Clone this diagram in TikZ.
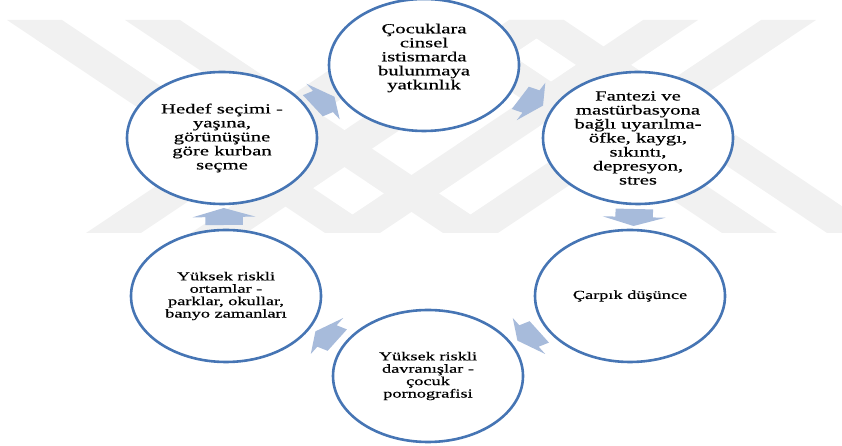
\documentclass[tikz,border=0pt]{standalone}
\usepackage{fontspec}
\setmainfont{Liberation Serif}[FakeStretch=1.5,FakeBold=0.5]
\usetikzlibrary{shapes.geometric,calc}
\definecolor{ringblue}{RGB}{70,117,180}
\definecolor{arrowblue}{RGB}{167,187,219}
\definecolor{markgray}{RGB}{241,241,241}
\newcommand{\bigtxt}{\fontsize{13.8}{14}\selectfont}
\newcommand{\smalltxt}{\fontsize{12.2}{12.4}\selectfont}
\tikzset{
  stage/.style={ellipse, draw=ringblue, line width=2.6pt, fill=white, minimum width=190pt, minimum height=132pt, inner sep=0pt, align=center},
  turn/.style={fill=arrowblue, draw=none}
}

\begin{document}
\begin{tikzpicture}[x=1pt,y=1pt]
    \useasboundingbox (0,0) rectangle (842,446);
    % faint watermark band behind the cycle
    \begin{scope}
      \clip (0,213) rectangle (842,426);
      \foreach \t in {34,152,431,536}
        \fill[markgray] (\t-27,426) -- (\t+28,426) -- (\t+346,213) -- (\t+291,213) -- cycle;
      \foreach \b in {113,218,352,470}
        \fill[markgray] (\b-27,213) -- (\b+28,213) -- (\b+346,426) -- (\b+291,426) -- cycle;
    \end{scope}

    \node[stage, font=\bigtxt] (cocuk) at (424,381) {Çocuklara\\cinsel\\istismarda\\bulunmaya\\yatkınlık\\[3pt]};
    \node[stage, font=\bigtxt] (fantezi) at (638,308) {Fantezi ve\\mastürbasyona\\bağlı uyarılma-\\öfke, kaygı,\\sıkıntı,\\depresyon,\\stres};
    \node[stage, font=\smalltxt] (carpik) at (630,150) {Çarpık düşünce};
    \node[stage, font=\smalltxt] (davranis) at (428,70) {Yüksek riskli\\davranışlar -\\çocuk\\pornografisi};
    \node[stage, font=\smalltxt] (ortam) at (226,150) {Yüksek riskli\\ortamlar -\\parklar, okullar,\\banyo zamanları};
    \node[stage, font=\bigtxt] (hedef) at (222,308) {Hedef seçimi -\\yaşına,\\görünüşüne\\göre kurban\\seçme};

    % block arrows half way between neighbouring stages
    \foreach \a/\b/\ang in {hedef/cocuk/32, cocuk/fantezi/-27, fantezi/carpik/-92, carpik/davranis/-149, davranis/ortam/149, ortam/hedef/91}
      \fill[turn, shift={($(\a)!0.5!(\b)$)}, xscale=1.5, rotate=\ang]
        (-8,-12.5) -- (0,-12.5) -- (0,-21) -- (9,0) -- (0,21) -- (0,12.5) -- (-8,12.5) -- cycle;
\end{tikzpicture}
\end{document}
